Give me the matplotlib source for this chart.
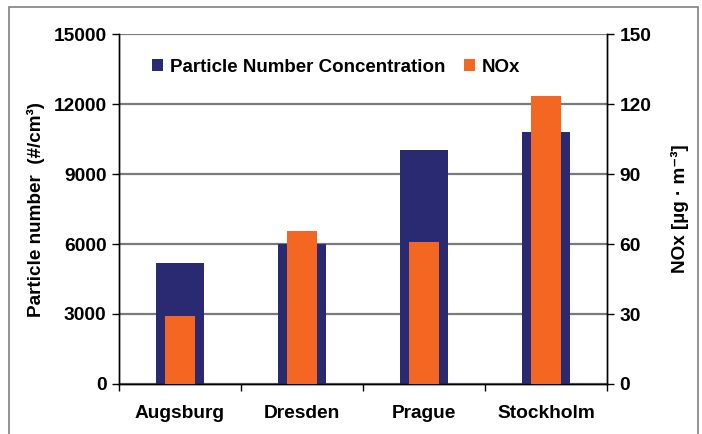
import matplotlib
matplotlib.use("Agg")
import matplotlib.pyplot as plt
import numpy as np
from matplotlib.patches import Rectangle, Patch

cities = ["Augsburg", "Dresden", "Prague", "Stockholm"]
particle_number = [5200, 6000, 10050, 10800]
nox = [29, 65.5, 61, 123.5]
pn_ticks = [0, 3000, 6000, 9000, 12000, 15000]
nox_ticks = [0, 30, 60, 90, 120, 150]

plt.rcParams["font.family"] = ["Liberation Sans", "DejaVu Sans"]
plt.rcParams["font.weight"] = "bold"

color_pn = "#2A2A72"
color_nox = "#F46723"

fig = plt.figure(figsize=(7.02, 4.34), dpi=100)
ax = fig.add_axes([119 / 702, 1 - 384 / 434, 488 / 702, 350 / 434])
ax2 = ax.twinx()

x = np.arange(len(cities))
ax.bar(x, particle_number, width=0.4, color=color_pn, zorder=3)
ax2.bar(x, nox, width=0.25, color=color_nox, zorder=3)

ax.set_xlim(-0.5, len(cities) - 0.5)
ax.set_ylim(0, 15000)
ax2.set_ylim(0, 150)
ax.set_yticks(pn_ticks)
ax2.set_yticks(nox_ticks)
ax.set_yticklabels([str(t) for t in pn_ticks], fontsize=13.8, fontweight="bold")
ax2.set_yticklabels([str(t) for t in nox_ticks], fontsize=13.8, fontweight="bold")

ax.set_xticks(x)
ax.set_xticklabels(cities, fontsize=13.8, fontweight="bold")
ax.set_xticks(np.arange(len(cities) + 1) - 0.5, minor=True)
ax.tick_params(axis="x", which="major", length=0, pad=15)
ax.tick_params(axis="x", which="minor", length=5, width=1)
ax.tick_params(axis="y", length=5, width=1, pad=4)
ax2.tick_params(axis="y", length=5, width=1, pad=4)

ax.yaxis.grid(True, color="#7a7a7a", linewidth=1.6, zorder=0)
ax.set_axisbelow(True)
for a in (ax, ax2):
    a.spines["top"].set_visible(False)
    for s in ("left", "right", "bottom"):
        a.spines[s].set_linewidth(1.0)
        a.spines[s].set_color("black")

ax.set_ylabel("Particle number  (#/cm³)", fontsize=13.6, fontweight="bold", labelpad=6)
ax2.set_ylabel("NOx [µg · m⁻³]", fontsize=13.6, fontweight="bold", labelpad=14)

handles = [Patch(facecolor=color_pn, label="Particle Number Concentration"),
           Patch(facecolor=color_nox, label="NOx")]
ax2.legend(handles=handles, loc="center left", bbox_to_anchor=(0.033, 0.905),
           ncol=2, frameon=False, handlelength=0.6, handleheight=0.6,
           handletextpad=0.35, columnspacing=1.0, prop={"weight": "bold", "size": 13.5})

fig.patches.append(Rectangle((9 / 702, -0.1), 689 / 702, 1.1 - 7 / 434,
                             transform=fig.transFigure, fill=False,
                             edgecolor="#808080", linewidth=1.2))

fig.savefig("out.png", dpi=100)
